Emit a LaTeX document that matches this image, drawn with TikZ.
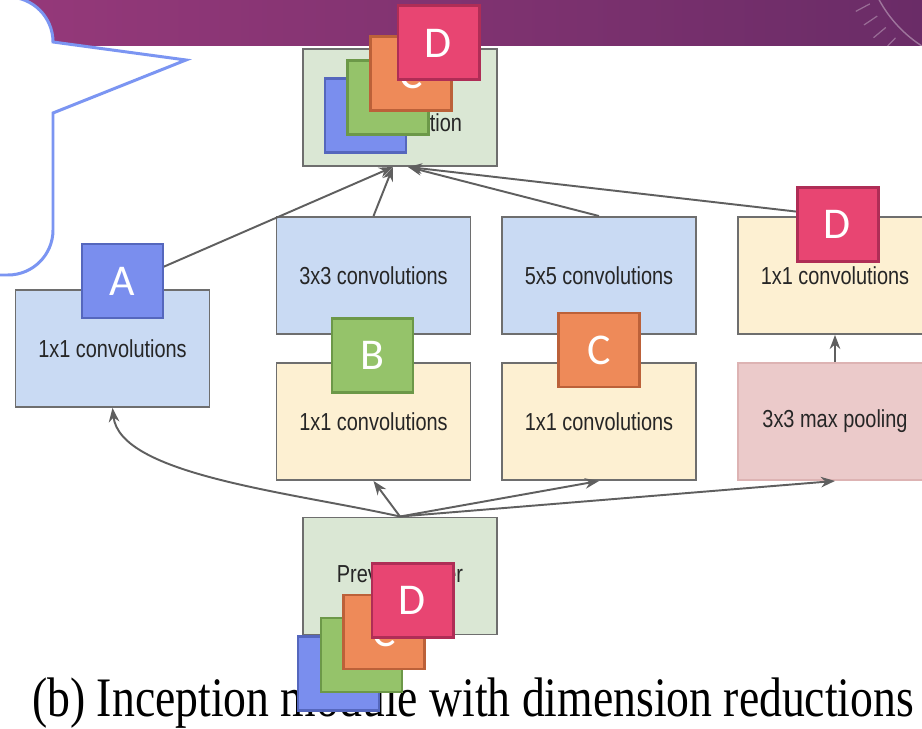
\documentclass[tikz,border=0pt]{standalone}
\usepackage{fontspec}
\setmainfont{Liberation Serif}
\newfontfamily\boxfont{Liberation Sans}[FakeStretch=0.81]
\newfontfamily\capfont{Liberation Serif}[FakeStretch=0.82]
\newfontfamily\letterfont{Carlito}
\usetikzlibrary{arrows.meta}
\definecolor{bannerLeft}{HTML}{96397A}
\definecolor{bannerRight}{HTML}{6A2C67}
\definecolor{calloutBlue}{HTML}{7B95F2}
\definecolor{boxLine}{HTML}{6E6E6E}
\definecolor{convBlue}{HTML}{C9DAF3}
\definecolor{reduceYellow}{HTML}{FDF0D2}
\definecolor{poolPink}{HTML}{EBCACA}
\definecolor{poolLine}{HTML}{DDB3B3}
\definecolor{layerGreen}{HTML}{DAE7D4}
\definecolor{arrowGrey}{HTML}{5F5F5F}
\definecolor{sqAFill}{HTML}{7A8EEE}
\definecolor{sqALine}{HTML}{5567BD}
\definecolor{sqBFill}{HTML}{95C36A}
\definecolor{sqBLine}{HTML}{6C9848}
\definecolor{sqCFill}{HTML}{EE8A59}
\definecolor{sqCLine}{HTML}{BC6139}
\definecolor{sqDFill}{HTML}{E84572}
\definecolor{sqDLine}{HTML}{AF2D56}

\begin{document}
\begin{tikzpicture}[x=0.2mm, y=-0.2mm,
    >={Stealth[length=8pt,width=6pt]},
    blk/.style={draw=boxLine, line width=1.1pt, minimum width=38.8mm, minimum height=23.4mm,
        inner sep=0pt, align=center, text=black!85, font=\boxfont\fontsize{14}{17}\selectfont},
    conn/.style={draw=arrowGrey, line width=1.1pt},
    sqbox/.style={line width=1.7pt, minimum width=16.2mm, minimum height=14.8mm, inner sep=0pt,
        text=white, font=\letterfont\fontsize{25}{25}\selectfont},
    squareA/.style={sqbox, fill=sqAFill, draw=sqALine},
    squareB/.style={sqbox, fill=sqBFill, draw=sqBLine},
    squareC/.style={sqbox, fill=sqCFill, draw=sqCLine},
    squareD/.style={sqbox, fill=sqDFill, draw=sqDLine}]
    \clip (0,0) rectangle (922,729);
    \fill[white] (0,0) rectangle (922,729);
    % slide banner
    \shade[left color=bannerLeft, right color=bannerRight] (0,0) rectangle (922,46);
    \draw[white, opacity=0.35, line width=0.8pt] (990,-60) ++(108:126) arc[start angle=108, end angle=170, radius=126];
    \begin{scope}[shift={(990,-60)}]
        \foreach \a in {134,140,...,158}
            \draw[white, opacity=0.3, line width=0.7pt] (\a:136) -- (\a:152);
    \end{scope}
    % callout
    \draw[calloutBlue, line width=1.7pt, fill=white] (-20,-3) -- (8,-3)
        arc[start angle=-90, end angle=0, radius=45] -- (186,60) -- (53,113) -- (53,230)
        arc[start angle=0, end angle=90, radius=45] -- (-20,275) -- cycle;

    % boxes
    \node[blk, fill=layerGreen] (concat) at (400,107.5) {Filter\\concatenation};
    \node[blk, fill=convBlue] (conva) at (112.5,348.5) {1x1 convolutions};
    \node[blk, fill=convBlue] (conv3) at (373.5,275.5) {3x3 convolutions};
    \node[blk, fill=reduceYellow] (red3) at (373.5,421.5) {1x1 convolutions};
    \node[blk, fill=convBlue] (conv5) at (599,275.5) {5x5 convolutions};
    \node[blk, fill=reduceYellow] (red5) at (599,421.5) {1x1 convolutions};
    \node[blk, fill=reduceYellow] (projconv) at (835,275.5) {1x1 convolutions};
    \node[blk, fill=poolPink, draw=poolLine] (pool) at (835,421.5) {3x3 max pooling};
    \node[blk, fill=layerGreen] (prevlayer) at (400,576) {Previous layer};

    % connectors
    \draw[conn, ->] (conva.north) -- ([xshift=-1.4mm]concat.south);
    \draw[conn, ->] (conv3.north) -- ([xshift=-1.4mm]concat.south);
    \draw[conn, ->] (conv5.north) -- ([xshift=1.6mm]concat.south);
    \draw[conn, ->] (projconv.north) -- ([xshift=1.6mm]concat.south);
    \draw[conn, ->] (pool.north) -- (projconv.south);
    \draw[conn, ->] (prevlayer.north) .. controls (290,492) and (120,475) .. (conva.south);
    \draw[conn, ->] (prevlayer.north) -- (red3.south);
    \draw[conn, ->] (prevlayer.north) -- (red5.south);
    \draw[conn, ->] (prevlayer.north) -- (pool.south);

    \node[anchor=base west, inner sep=0pt, font=\capfont\fontsize{31.7}{36}\selectfont] (caption) at (32,716)
        {(b) Inception module with dimension reductions};

    % letter tags
    \node[squareA] (markA) at (122.5,281) {A};
    \node[squareB] (markB) at (372.5,355.5) {B};
    \node[squareC] (markC) at (599,350) {C};
    \node[squareD] (markD) at (837.5,224.5) {D};
    \foreach \l/\x/\y in {A/365.5/115.5, B/388/97.5, C/411/74, D/438.5/43}
        \node[square\l] (top\l) at (\x,\y) {\l};
    \foreach \l/\x/\y in {A/338.5/673.5, B/361.5/655, C/384/632, D/412.5/600.5}
        \node[square\l] (bot\l) at (\x,\y) {\l};
\end{tikzpicture}
\end{document}
